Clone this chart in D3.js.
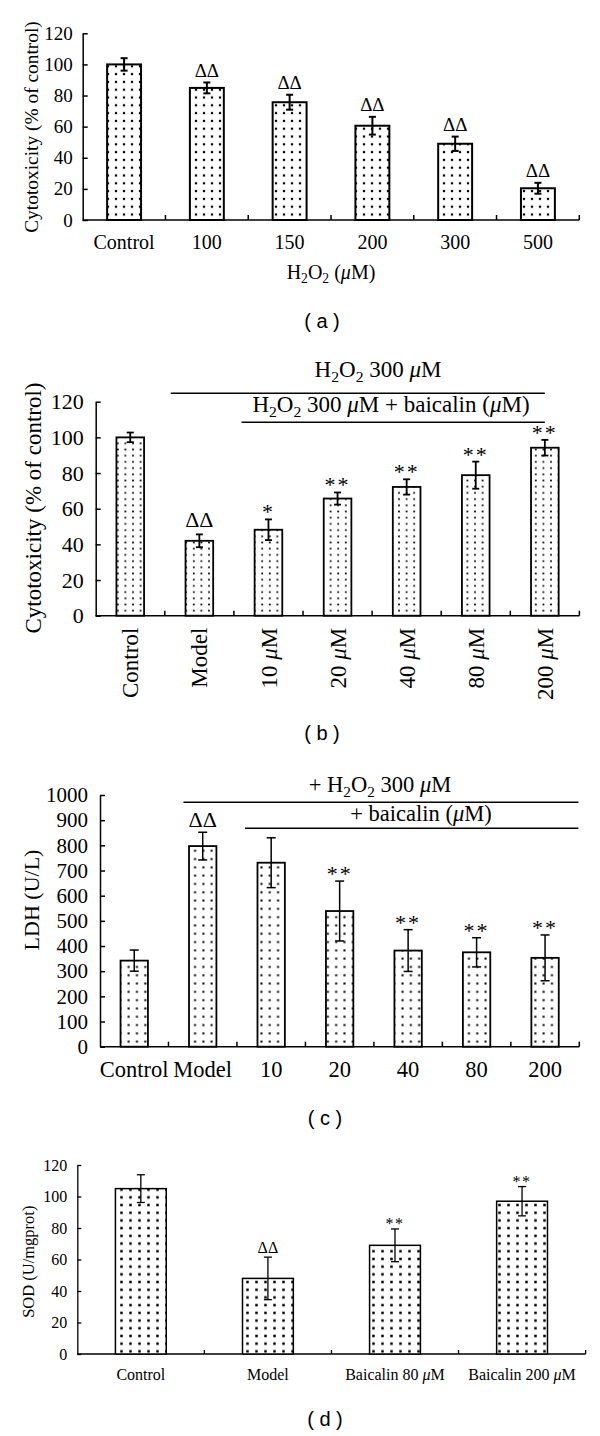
<!DOCTYPE html>
<html><head><meta charset="utf-8">
<script src="https://cdn.jsdelivr.net/npm/d3@7"></script>
<style>body{margin:0;background:#fff}svg{display:block}</style>
</head><body>
<script>
// ---------- DATA ----------
const aCategories = ["Control","100","150","200","300","500"];
const aValues = [100, 84.9, 75.7, 60.6, 49, 20.4];
const aErrors = [4, 3.5, 4.8, 5.7, 4.6, 3.5];
const aMarks = ["", "ΔΔ", "ΔΔ", "ΔΔ", "ΔΔ", "ΔΔ"];
const aTicks = [0, 20, 40, 60, 80, 100, 120];

const bCategories = ["Control","Model","10 μM","20 μM","40 μM","80 μM","200 μM"];
const bValues = [100, 42, 48.2, 65.7, 72.2, 78.8, 94.2];
const bErrors = [2.7, 3.6, 5.8, 3.4, 4.3, 7.6, 4.4];
const bMarks = ["", "ΔΔ", "*", "**", "**", "**", "**"];
const bTicks = [0, 20, 40, 60, 80, 100, 120];

const cCategories = ["Control","Model","10","20","40","80","200"];
const cValues = [342, 797, 731, 539, 382, 375, 353];
const cErrors = [42, 55, 99, 119, 83, 58, 91];
const cMarks = ["", "ΔΔ", "", "**", "**", "**", "**"];
const cTicks = [0,100,200,300,400,500,600,700,800,900,1000];

const dCategories = ["Control","Model","Baicalin 80 μM","Baicalin 200 μM"];
const dValues = [105, 48, 69, 97];
const dErrors = [8.8, 13.5, 10.4, 9.3];
const dMarks = ["", "ΔΔ", "**", "**"];
const dTicks = [0, 20, 40, 60, 80, 100, 120];

// ---------- DRAW ----------
const SERIF = "'Liberation Serif','Times New Roman',serif";
const SANS = "'Liberation Sans',Arial,sans-serif";
const svg = d3.select("body").append("svg").attr("width", 600).attr("height", 1436);
const defs = svg.append("defs");

function makePattern(id, w, h, dot) {
  const p = defs.append("pattern").attr("id", id).attr("patternUnits", "userSpaceOnUse")
    .attr("width", w).attr("height", h);
  p.append("rect").attr("width", w).attr("height", h).attr("fill", "#fff");
  p.append("rect").attr("x", (w - dot) / 2).attr("y", (h - dot) / 2)
    .attr("width", dot).attr("height", dot).attr("fill", "#000");
}

// rich text: "_x" -> subscript x, "μ" -> italic
function rich(textSel, str, fs) {
  let pending = 0;
  const add = (txt) => {
    const ts = textSel.append("tspan").text(txt);
    if (pending) { ts.attr("dy", pending); pending = 0; }
    return ts;
  };
  for (let i = 0; i < str.length; i++) {
    const ch = str[i];
    if (ch === "_") {
      const s = str[++i];
      add(s).attr("font-size", fs * 0.68).attr("dy", fs * 0.22);
      pending = -fs * 0.22;
    } else if (ch === "μ") {
      add("μ").attr("font-style", "italic");
    } else {
      let j = i; let buf = "";
      while (j < str.length && str[j] !== "_" && str[j] !== "μ") { buf += str[j]; j++; }
      add(buf);
      i = j - 1;
    }
  }
  return textSel;
}

function panel(cfg) {
  const g = svg.append("g");
  makePattern(cfg.pid, cfg.pw, cfg.ph, cfg.dot);
  const x = d3.scaleBand().domain(cfg.cats).range([cfg.x0, cfg.x1]).padding(0);
  const y = d3.scaleLinear().domain([0, cfg.max]).range([cfg.y0, cfg.y1]);
  const bw = x.bandwidth() * cfg.barFrac;

  // y axis
  const ya = g.append("g").attr("transform", `translate(${cfg.x0},0)`)
    .call(d3.axisLeft(y).tickValues(cfg.ticks).tickSizeInner(-cfg.tick).tickSizeOuter(0)
      .tickPadding(cfg.tpad).tickFormat(d3.format("d")));
  ya.select(".domain").attr("stroke", "#000").attr("stroke-width", cfg.sw);
  ya.selectAll(".tick line").attr("stroke", "#000").attr("stroke-width", cfg.sw);
  ya.selectAll(".tick text").attr("font-family", SERIF).attr("font-size", cfg.fs).attr("fill", "#000");

  // x axis line + ticks at band boundaries
  g.append("line").attr("x1", cfg.x0).attr("x2", cfg.x1).attr("y1", y(0)).attr("y2", y(0))
    .attr("stroke", "#000").attr("stroke-width", cfg.sw);
  const bounds = cfg.cats.slice(1).map(c => x(c)).concat([cfg.x1]);
  g.selectAll(".xt").data(bounds).join("line")
    .attr("x1", d => d).attr("x2", d => d)
    .attr("y1", y(0)).attr("y2", y(0) + cfg.xtick)
    .attr("stroke", "#000").attr("stroke-width", cfg.sw);

  // bars
  const data = cfg.cats.map((c, i) => ({c, v: cfg.vals[i], e: cfg.errs[i], m: cfg.marks[i]}));
  g.selectAll(".bar").data(data).join("rect")
    .attr("x", d => x(d.c) + x.bandwidth() / 2 - bw / 2)
    .attr("y", d => y(d.v)).attr("width", bw).attr("height", d => y(0) - y(d.v))
    .attr("fill", `url(#${cfg.pid})`).attr("stroke", "#000").attr("stroke-width", cfg.bsw);

  // error bars
  const eg = g.selectAll(".err").data(data).join("g").attr("stroke", "#000").attr("stroke-width", cfg.esw);
  eg.append("line").attr("x1", d => x(d.c) + x.bandwidth() / 2).attr("x2", d => x(d.c) + x.bandwidth() / 2)
    .attr("y1", d => y(d.v - d.e)).attr("y2", d => y(d.v + d.e));
  eg.append("line").attr("x1", d => x(d.c) + x.bandwidth() / 2 - cfg.cap / 2).attr("x2", d => x(d.c) + x.bandwidth() / 2 + cfg.cap / 2)
    .attr("y1", d => y(d.v + d.e)).attr("y2", d => y(d.v + d.e));
  eg.append("line").attr("x1", d => x(d.c) + x.bandwidth() / 2 - cfg.cap / 2).attr("x2", d => x(d.c) + x.bandwidth() / 2 + cfg.cap / 2)
    .attr("y1", d => y(d.v - d.e)).attr("y2", d => y(d.v - d.e));

  // significance marks
  g.selectAll(".mk").data(data.filter(d => d.m)).join("text")
    .attr("x", d => x(d.c) + x.bandwidth() / 2)
    .attr("y", d => y(d.v + d.e) - (d.m.includes("Δ") ? cfg.dOff : cfg.sOff))
    .attr("text-anchor", "middle").attr("font-family", SERIF)
    .attr("font-size", d => d.m.includes("Δ") ? cfg.mfs : cfg.sfs)
    .attr("letter-spacing", d => d.m.includes("*") ? cfg.sls : 0)
    .attr("fill", "#000").text(d => d.m);

  // x labels
  data.forEach(d => {
    const cx = x(d.c) + x.bandwidth() / 2;
    let t;
    if (cfg.rotate) {
      t = g.append("text").attr("transform", `translate(${cx},${y(0) + cfg.lgap}) rotate(-90)`)
        .attr("text-anchor", "end").attr("dy", "0.35em");
    } else {
      t = g.append("text").attr("x", cx).attr("y", cfg.lbase).attr("text-anchor", "middle");
    }
    t.attr("font-family", SERIF).attr("font-size", cfg.xfs).attr("fill", "#000");
    rich(t, d.c, cfg.xfs);
  });

  // y title
  g.append("text").attr("transform", `translate(${cfg.ytx},${cfg.yty}) rotate(-90)`)
    .attr("text-anchor", "middle").attr("dy", "0.35em")
    .attr("font-family", SERIF).attr("font-size", cfg.ytfs).attr("fill", "#000").text(cfg.ytitle);

  // panel letter
  g.append("text").attr("x", cfg.lx).attr("y", cfg.ly).attr("text-anchor", "middle")
    .attr("font-family", SANS).attr("font-size", 20).attr("fill", "#000").attr("xml:space", "preserve")
    .text(cfg.letter);
  return {g, x, y};
}

// Panel a
const A = panel({pid: "pa", pw: 8, ph: 7.8, dot: 2.2, cats: aCategories, vals: aValues, errs: aErrors, marks: aMarks,
  ticks: aTicks, max: 120, x0: 82.7, x1: 579.3, y0: 220, y1: 33.3, barFrac: 0.41, tick: 5, xtick: -5, tpad: 10,
  sw: 1.5, bsw: 2, esw: 2, cap: 7, fs: 19, xfs: 20, lbase: 249, mfs: 19, sfs: 20, sls: 1, dOff: 5.5, sOff: 1,
  ytx: 31.7, yty: 127, ytfs: 19.4, ytitle: "Cytotoxicity (% of control)", lx: 322, ly: 328, letter: "( a )"});
{
  const t = A.g.append("text").attr("x", 331).attr("y", 279).attr("text-anchor", "middle")
    .attr("font-family", SERIF).attr("font-size", 20).attr("fill", "#000");
  rich(t, "H_2O_2 (μM)", 20);
}

// Panel b
const B = panel({pid: "pb", pw: 7.6, ph: 6.2, dot: 1.7, cats: bCategories, vals: bValues, errs: bErrors, marks: bMarks,
  ticks: bTicks, max: 120, x0: 95.7, x1: 579.4, y0: 615.7, y1: 401.7, barFrac: 0.4, tick: 5, xtick: -5, tpad: 12,
  sw: 1.5, bsw: 1.8, esw: 1.8, cap: 7, fs: 22, xfs: 23, rotate: true, lgap: 12, mfs: 22, sfs: 22, sls: 2, dOff: 7.5, sOff: 0,
  ytx: 33, yty: 508, ytfs: 23, ytitle: "Cytotoxicity (% of control)", lx: 322, ly: 740, letter: "( b )"});
{
  const bx = B.x;
  const l1s = bx("Model") + 6, l2s = bx("10 μM") + 7.6, le = bx("200 μM") + bx.bandwidth() / 2;
  B.g.append("line").attr("x1", l1s).attr("x2", le).attr("y1", 393.3).attr("y2", 393.3).attr("stroke", "#000").attr("stroke-width", 1.5);
  B.g.append("line").attr("x1", l2s).attr("x2", le).attr("y1", 422.3).attr("y2", 422.3).attr("stroke", "#000").attr("stroke-width", 1.5);
  const t1 = B.g.append("text").attr("x", 378).attr("y", 377).attr("text-anchor", "middle")
    .attr("font-family", SERIF).attr("font-size", 23).attr("fill", "#000");
  rich(t1, "H_2O_2 300 μM", 23);
  const t2 = B.g.append("text").attr("x", 391).attr("y", 412).attr("text-anchor", "middle")
    .attr("font-family", SERIF).attr("font-size", 23).attr("fill", "#000");
  rich(t2, "H_2O_2 300 μM + baicalin (μM)", 23);
}

// Panel c
const C = panel({pid: "pc", pw: 8.3, ph: 8.3, dot: 2, cats: cCategories, vals: cValues, errs: cErrors, marks: cMarks,
  ticks: cTicks, max: 1000, x0: 100, x1: 579.3, y0: 1046.7, y1: 795, barFrac: 0.4, tick: 5, xtick: -5, tpad: 12,
  sw: 1.5, bsw: 1.8, esw: 1.5, cap: 9, fs: 21, xfs: 22.5, lbase: 1077, mfs: 22, sfs: 22, sls: 2, dOff: 5.5, sOff: 0,
  ytx: 31.7, yty: 900, ytfs: 22, ytitle: "LDH (U/L)", lx: 325, ly: 1125, letter: "( c )"});
{
  const cx = C.x;
  const l1s = cx("Model") + 15, l2s = cx("10") + 8, le = 578.4;
  C.g.append("line").attr("x1", l1s).attr("x2", le).attr("y1", 802.3).attr("y2", 802.3).attr("stroke", "#000").attr("stroke-width", 1.5);
  C.g.append("line").attr("x1", l2s).attr("x2", le).attr("y1", 828.3).attr("y2", 828.3).attr("stroke", "#000").attr("stroke-width", 1.5);
  const t1 = C.g.append("text").attr("x", 380).attr("y", 792).attr("text-anchor", "middle")
    .attr("font-family", SERIF).attr("font-size", 22.5).attr("fill", "#000");
  rich(t1, "+ H_2O_2 300 μM", 22.5);
  const t2 = C.g.append("text").attr("x", 421).attr("y", 821).attr("text-anchor", "middle")
    .attr("font-family", SERIF).attr("font-size", 22.5).attr("fill", "#000");
  rich(t2, "+ baicalin (μM)", 22.5);
}

// Panel d
const D = panel({pid: "pd", pw: 9, ph: 7.7, dot: 2.5, cats: dCategories, vals: dValues, errs: dErrors, marks: dMarks,
  ticks: dTicks, max: 120, x0: 77.3, x1: 585.6, y0: 1354, y1: 1165, barFrac: 0.4, tick: 4, xtick: -4, tpad: 10,
  sw: 1.3, bsw: 1.5, esw: 1.3, cap: 8, fs: 16, xfs: 16, lbase: 1380, mfs: 16, sfs: 16, sls: 1.5, dOff: 4, sOff: 0,
  ytx: 28.3, yty: 1261.7, ytfs: 16.5, ytitle: "SOD (U/mgprot)", lx: 325, ly: 1426, letter: "( d )"});
</script>
</body></html>
